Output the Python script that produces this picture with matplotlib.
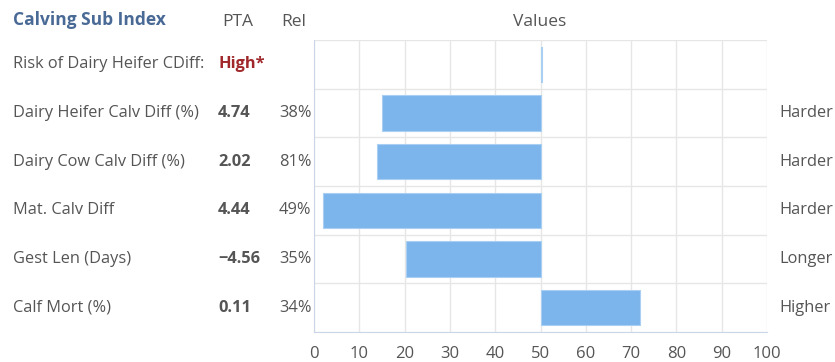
import matplotlib.pyplot as plt
import matplotlib.transforms as mtransforms
import numpy as np

plt.rcParams['font.family'] = ['Open Sans', 'DejaVu Sans']

traits = ['Risk of Dairy Heifer CDiff:', 'Dairy Heifer Calv Diff (%)', 'Dairy Cow Calv Diff (%)',
          'Mat. Calv Diff', 'Gest Len (Days)', 'Calf Mort (%)']
pta = ['High*', '4.74', '2.02', '4.44', '\u22124.56', '0.11']
rel = ['', '38%', '81%', '49%', '35%', '34%']
bar_end = [50.4, 15, 14, 2, 20.3, 72]
direction = ['', 'Harder', 'Harder', 'Harder', 'Longer', 'Higher']
center = 50
xticks = [0, 10, 20, 30, 40, 50, 60, 70, 80, 90, 100]

W, H = 835, 362
fig = plt.figure(figsize=(W / 100, H / 100), dpi=100)
ax = fig.add_axes([314 / W, 1 - 332 / H, (767 - 314) / W, (332 - 40) / H])

rows = np.arange(len(traits))
ax.barh(rows, np.array(bar_end) - center, left=center, height=0.72,
        color='#7cb5ec', edgecolor='#a9cff3', linewidth=0.8, zorder=3)

ax.set_xlim(0, 100)
ax.set_ylim(len(traits) - 0.5, -0.5)
ax.set_xticks(xticks)
ax.set_yticks(np.arange(len(traits) + 1) - 0.5)
ax.set_yticklabels([])
ax.grid(True, color='#e6e6e6', linewidth=1, zorder=0)
ax.tick_params(axis='both', length=0)
ax.tick_params(axis='x', labelsize=12, labelcolor='#555555', pad=10)
for s in ['top', 'right']:
    ax.spines[s].set_visible(False)
for s in ['left', 'bottom']:
    ax.spines[s].set_color('#ccd6eb')

fs = 11.8
txt = '#555555'
# text columns placed in figure pixels, rows follow the data axis
tr = mtransforms.blended_transform_factory(fig.transFigure, ax.transData)
for i in rows:
    ax.text(13 / W, i, traits[i], transform=tr, fontsize=fs, color=txt, va='center')
    if i == 0:
        ax.text(218 / W, i, pta[i], transform=tr, fontsize=fs, color='#a0282a',
                fontweight='bold', va='center')
    else:
        ax.text(218 / W, i, pta[i], transform=tr, fontsize=fs, color=txt,
                fontweight='bold', va='center')
        ax.text(279 / W, i, rel[i], transform=tr, fontsize=fs, color=txt, va='center')
        ax.text(779 / W, i, direction[i], transform=tr, fontsize=fs, color=txt, va='center')

fig.text(13 / W, 1 - 20 / H, 'Calving Sub Index', fontsize=12.5, color='#4a6a96',
         fontweight='bold', va='center')
fig.text(222 / W, 1 - 22 / H, 'PTA', fontsize=12.5, color=txt, va='center')
fig.text(281 / W, 1 - 22 / H, 'Rel', fontsize=12.5, color=txt, va='center')
fig.text(540 / W, 1 - 22 / H, 'Values', fontsize=12.5, color=txt, va='center', ha='center')

fig.savefig('out.png', dpi=100)
